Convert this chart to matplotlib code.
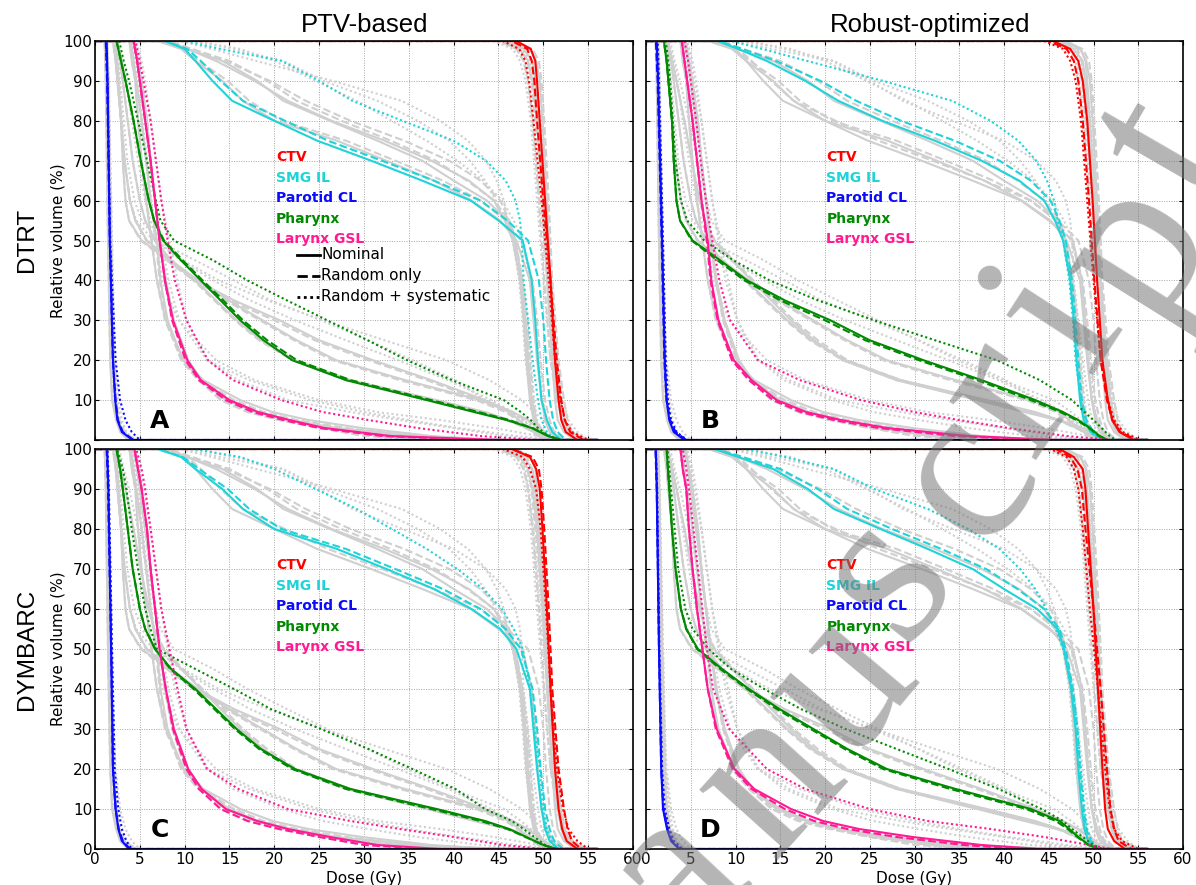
import matplotlib
matplotlib.use("Agg")
import matplotlib.pyplot as plt

# ---------------------------------------------------------------------------
# Cumulative DVHs: dose (Gy) at which each structure reaches the listed
# relative volume (%).  Each tuple holds (nominal, random only,
# random + systematic).
# ---------------------------------------------------------------------------
CTV_V = [100, 98, 95, 90, 80, 60, 40, 20, 10, 5, 2, 0]
SMG_V = [100, 98, 95, 90, 85, 80, 75, 70, 65, 60, 55, 50, 40, 30, 20, 10, 5, 2, 0]
PAR_V = [100, 90, 50, 20, 10, 5, 2, 0]
PHX_V = [100, 95, 90, 80, 70, 60, 55, 50, 45, 40, 35, 30, 25, 20, 15, 10, 7, 5, 3, 1, 0]
LAR_V = [100, 95, 90, 80, 70, 60, 50, 40, 30, 20, 15, 10, 7, 5, 3, 1, 0]

# DTRT, PTV-based
A_CTV = ([47.0, 48.6, 49.1, 49.3, 49.6, 50.2, 50.8, 51.3, 51.7, 52.0, 52.5, 53.8],
         [46.5, 48.2, 48.7, 49.0, 49.3, 50.0, 50.8, 51.5, 52.0, 52.4, 53.0, 54.5],
         [45.5, 47.3, 48.0, 48.4, 48.9, 49.8, 50.6, 51.3, 51.9, 52.4, 53.2, 55.0])
A_SMG = ([7.8, 10.0, 11.2, 13.1, 15.3, 20.0, 24.8, 30.8, 36.5, 41.9, 45.0, 47.7, 48.7, 49.1, 49.4, 49.8, 50.4, 51.0, 52.0],
         [7.8, 10.3, 11.8, 14.0, 16.5, 21.2, 26.0, 32.0, 37.8, 43.0, 46.0, 48.3, 49.5, 50.0, 50.3, 50.7, 51.1, 51.6, 52.5],
         [10.0, 14.0, 20.8, 25.0, 28.7, 34.3, 40.0, 43.6, 45.8, 46.9, 47.4, 47.6, 47.8, 48.3, 48.8, 49.4, 49.8, 50.4, 51.3])
A_PAR = ([1.3, 1.4, 1.65, 2.0, 2.25, 2.5, 3.0, 4.2],
         [1.2, 1.35, 1.65, 2.0, 2.3, 2.55, 3.1, 4.3],
         [1.2, 1.4, 1.7, 2.3, 2.8, 3.4, 4.1, 5.0])
A_PHX = ([2.4, 2.9, 3.4, 4.3, 5.1, 6.0, 6.6, 7.6, 9.6, 11.8, 14.0, 16.2, 18.8, 22.0, 28.0, 37.0, 42.3, 45.9, 48.7, 50.5, 52.0],
         [2.4, 2.9, 3.4, 4.3, 5.1, 6.0, 6.6, 7.7, 9.8, 12.0, 14.3, 16.5, 19.2, 22.5, 28.5, 37.5, 42.8, 46.2, 48.8, 50.6, 52.0],
         [2.7, 3.2, 3.8, 4.8, 5.8, 6.8, 7.3, 8.8, 13.2, 17.0, 21.4, 25.9, 30.4, 34.8, 39.8, 45.6, 47.5, 48.6, 49.4, 50.6, 51.8])
A_LAR = ([4.3, 4.7, 5.0, 5.6, 6.2, 6.7, 7.2, 7.8, 8.7, 10.3, 11.8, 15.0, 18.2, 21.7, 25.6, 33.0, 45.0],
         [4.3, 4.7, 5.0, 5.6, 6.2, 6.7, 7.2, 7.8, 8.6, 10.1, 11.6, 14.6, 17.6, 21.0, 25.0, 32.0, 43.0],
         [4.5, 5.0, 5.4, 6.2, 6.8, 7.4, 8.1, 8.9, 10.2, 12.6, 15.4, 20.8, 25.4, 30.5, 36.0, 43.0, 49.0])

# DTRT, robust-optimized
B_CTV = ([45.5, 47.4, 48.3, 48.8, 49.3, 49.9, 50.4, 51.0, 51.6, 52.1, 52.9, 54.5],
         [45.0, 47.0, 47.8, 48.3, 48.8, 49.5, 50.1, 50.8, 51.5, 52.1, 53.0, 54.8],
         [44.5, 46.6, 47.4, 48.0, 48.6, 49.3, 50.0, 50.8, 51.6, 52.3, 53.3, 55.2])
B_SMG = ([8.0, 10.3, 13.5, 17.8, 21.5, 26.4, 32.3, 37.5, 41.7, 44.5, 45.7, 46.6, 47.4, 47.8, 48.1, 48.5, 48.9, 49.7, 51.0],
         [8.2, 10.8, 14.5, 19.5, 23.5, 28.5, 34.5, 39.5, 43.0, 45.2, 46.2, 46.9, 47.6, 48.0, 48.3, 48.7, 49.2, 50.0, 51.2],
         [9.5, 13.0, 18.0, 26.5, 34.2, 38.5, 41.6, 43.6, 44.8, 45.6, 46.0, 46.6, 47.3, 47.7, 48.0, 48.6, 49.0, 49.7, 50.5])
B_PAR = ([1.2, 1.35, 1.8, 2.1, 2.3, 2.6, 3.1, 4.3],
         [1.1, 1.3, 1.75, 2.05, 2.3, 2.7, 3.3, 4.5],
         [1.3, 1.45, 1.9, 2.2, 2.45, 2.8, 3.4, 4.6])
B_PHX = ([2.0, 2.3, 2.5, 2.9, 3.1, 3.4, 3.8, 5.2, 8.3, 11.3, 15.5, 20.6, 25.0, 31.0, 37.5, 43.5, 46.6, 48.3, 49.6, 50.7, 51.6],
         [2.0, 2.3, 2.5, 2.9, 3.1, 3.4, 3.8, 5.1, 8.0, 11.0, 15.0, 20.0, 24.5, 30.5, 37.0, 43.0, 46.3, 48.1, 49.5, 50.6, 51.6],
         [2.2, 2.5, 2.7, 3.0, 3.3, 3.9, 4.6, 6.5, 9.8, 13.8, 19.2, 25.5, 32.3, 39.2, 44.0, 47.6, 49.0, 50.0, 50.9, 51.8, 52.5])
B_LAR = ([4.0, 4.3, 4.6, 5.2, 5.7, 6.2, 6.9, 7.3, 8.1, 9.8, 11.8, 14.6, 17.9, 21.8, 27.0, 36.0, 46.0],
         [4.0, 4.3, 4.6, 5.2, 5.7, 6.2, 6.8, 7.2, 8.0, 9.6, 11.5, 14.2, 17.3, 21.0, 26.0, 34.5, 44.0],
         [4.3, 4.7, 5.0, 5.6, 6.1, 6.7, 7.4, 8.2, 9.4, 12.5, 17.2, 24.0, 30.0, 35.0, 40.5, 47.0, 52.0])

# DYMBARC, PTV-based
C_CTV = ([46.5, 48.5, 49.2, 49.6, 49.9, 50.4, 50.8, 51.3, 51.7, 52.1, 52.6, 53.8],
         [46.5, 48.8, 49.5, 49.8, 50.1, 50.6, 51.0, 51.7, 52.3, 52.7, 53.2, 54.2],
         [45.5, 47.7, 48.5, 49.2, 49.7, 50.3, 50.8, 51.5, 52.2, 52.8, 53.8, 55.0])
C_SMG = ([7.0, 9.6, 11.2, 14.2, 16.5, 20.0, 27.0, 32.5, 37.8, 42.0, 45.2, 47.0, 48.5, 48.9, 49.3, 49.8, 50.2, 50.7, 51.7],
         [7.0, 9.8, 11.6, 14.8, 17.2, 20.8, 28.0, 33.5, 38.8, 43.0, 45.8, 47.5, 48.8, 49.3, 49.7, 50.2, 50.7, 51.2, 52.2],
         [11.0, 16.2, 20.0, 24.6, 29.2, 33.1, 37.0, 40.4, 43.3, 45.4, 46.7, 47.7, 48.5, 49.0, 49.6, 50.0, 50.4, 50.9, 51.5])
C_PAR = ([1.35, 1.5, 1.8, 2.0, 2.3, 2.6, 3.0, 3.8],
         [1.3, 1.45, 1.8, 2.0, 2.3, 2.65, 3.1, 3.9],
         [1.4, 1.55, 1.9, 2.2, 2.6, 3.0, 3.5, 4.1])
C_PHX = ([2.4, 2.8, 3.1, 3.65, 4.2, 5.0, 5.6, 6.7, 8.5, 11.2, 13.5, 15.8, 18.5, 22.3, 28.5, 38.1, 43.5, 46.2, 48.1, 50.0, 51.5],
         [2.4, 2.8, 3.1, 3.65, 4.2, 5.0, 5.6, 6.7, 8.4, 11.0, 13.3, 15.6, 18.3, 22.0, 28.0, 37.5, 43.0, 46.0, 48.0, 50.0, 51.5],
         [2.5, 3.1, 3.5, 4.1, 4.8, 5.6, 6.2, 6.9, 11.2, 15.5, 19.6, 25.2, 30.5, 35.4, 40.2, 43.5, 46.5, 47.8, 49.0, 50.2, 51.0])
C_LAR = ([4.4, 4.8, 5.2, 5.8, 6.2, 6.7, 7.2, 7.9, 8.8, 10.4, 11.9, 14.6, 18.1, 21.5, 26.2, 31.5, 38.5],
         [4.4, 4.8, 5.2, 5.8, 6.2, 6.7, 7.2, 7.9, 8.7, 10.2, 11.6, 14.0, 17.0, 20.5, 25.0, 30.0, 37.0],
         [4.6, 5.2, 5.6, 6.2, 6.8, 7.4, 8.3, 9.2, 10.2, 12.5, 16.0, 21.5, 28.5, 34.0, 40.0, 45.5, 50.0])

# DYMBARC, robust-optimized
D_CTV = ([46.2, 47.8, 48.8, 49.1, 49.4, 50.0, 50.5, 51.0, 51.3, 51.6, 52.3, 53.5],
         [45.8, 47.4, 48.2, 48.7, 49.1, 50.0, 50.8, 51.5, 51.9, 52.3, 52.8, 54.2],
         [45.2, 47.0, 47.8, 48.3, 48.8, 49.6, 50.5, 51.3, 51.8, 52.3, 53.2, 55.0])
D_SMG = ([7.7, 10.3, 14.2, 18.1, 21.0, 26.2, 31.5, 36.5, 40.0, 43.7, 46.0, 46.7, 47.5, 48.0, 48.3, 48.7, 49.0, 49.4, 50.2],
         [7.7, 10.8, 15.0, 19.2, 22.5, 27.5, 33.0, 38.0, 41.5, 44.5, 46.2, 46.9, 47.7, 48.2, 48.5, 48.9, 49.2, 49.7, 50.5],
         [11.0, 15.5, 21.0, 25.5, 31.5, 36.0, 39.5, 41.8, 43.5, 44.7, 45.8, 46.6, 47.7, 48.2, 48.6, 49.0, 49.3, 49.8, 50.5])
D_PAR = ([1.1, 1.2, 1.45, 1.7, 1.9, 2.35, 2.8, 3.7],
         [1.05, 1.2, 1.45, 1.7, 1.95, 2.4, 2.9, 3.8],
         [1.1, 1.25, 1.5, 1.8, 2.1, 2.6, 3.1, 4.1])
D_PHX = ([2.3, 2.45, 2.6, 2.9, 3.3, 3.9, 4.5, 5.8, 8.5, 11.5, 14.9, 18.7, 22.5, 26.9, 34.6, 43.0, 46.2, 47.3, 48.3, 49.5, 50.5],
         [2.3, 2.45, 2.6, 2.9, 3.3, 3.9, 4.5, 5.7, 8.3, 11.3, 14.6, 18.4, 22.2, 26.5, 34.0, 42.5, 45.8, 47.1, 48.2, 49.4, 50.5],
         [2.4, 2.6, 2.8, 3.2, 3.6, 4.4, 5.2, 7.0, 9.5, 13.2, 17.3, 22.3, 28.0, 33.8, 39.4, 44.2, 46.6, 47.6, 48.8, 50.0, 51.0])
D_LAR = ([3.85, 4.1, 4.5, 4.8, 5.2, 5.7, 6.3, 6.9, 7.9, 9.9, 12.1, 16.2, 19.8, 23.8, 29.8, 37.5, 44.0],
         [3.85, 4.1, 4.5, 4.8, 5.2, 5.7, 6.3, 6.9, 7.8, 9.7, 11.8, 15.5, 18.8, 22.5, 28.0, 35.5, 42.0],
         [4.1, 4.5, 4.8, 5.3, 5.8, 6.3, 6.8, 7.5, 9.3, 13.5, 17.8, 25.0, 31.5, 38.5, 44.5, 49.5, 52.0])

STRUCTURES = ["CTV", "SMG IL", "Parotid CL", "Pharynx", "Larynx GSL"]
STRUCT_VOLS = [CTV_V, SMG_V, PAR_V, PHX_V, LAR_V]
COLORS = ["#ff0000", "#1fd3d8", "#0a0aff", "#008a00", "#ff1a93"]
SCENARIOS = ["Nominal", "Random only", "Random + systematic"]

PANEL_KEYS = ["A", "B", "C", "D"]
PANEL_DATA = {
    "A": [A_CTV, A_SMG, A_PAR, A_PHX, A_LAR],
    "B": [B_CTV, B_SMG, B_PAR, B_PHX, B_LAR],
    "C": [C_CTV, C_SMG, C_PAR, C_PHX, C_LAR],
    "D": [D_CTV, D_SMG, D_PAR, D_PHX, D_LAR],
}
COL_TITLES = ["PTV-based", "Robust-optimized"]
ROW_TITLES = ["DTRT", "DYMBARC"]
X_TICKS = list(range(0, 61, 5))
Y_TICKS = list(range(0, 101, 10))
DOSE_END = 56.0

STYLES = ["-", "--", (0, (1, 1.3))]
GRAY = "#cfcfcf"

W, H = 1196, 885
fig = plt.figure(figsize=(W / 100, H / 100), dpi=100)

AX_BOX = {"A": (95, 41, 633, 440), "B": (646, 41, 1183, 440),
          "C": (95, 449, 633, 849), "D": (646, 449, 1183, 849)}


def rect(l, t, r, b):
    return [l / W, 1 - b / H, (r - l) / W, (b - t) / H]


def dvh(doses, vols):
    x = [0.0] + list(doses) + [DOSE_END]
    y = [100.0] + list(vols) + [0.0]
    return x, y


for key in PANEL_KEYS:
    ax = fig.add_axes(rect(*AX_BOX[key]))
    row = 0 if key in "AB" else 1
    col = 0 if key in "AC" else 1

    # the other three plans, in grey, underneath
    for other in PANEL_KEYS:
        if other == key:
            continue
        for vols, triple in zip(STRUCT_VOLS, PANEL_DATA[other]):
            for ls, doses in zip(STYLES, triple):
                x, y = dvh(doses, vols)
                ax.plot(x, y, color=GRAY, lw=1.5, ls=ls, zorder=2)

    # this plan in colour
    for vols, triple, c in zip(STRUCT_VOLS, PANEL_DATA[key], COLORS):
        for ls, doses in zip(STYLES, triple):
            x, y = dvh(doses, vols)
            ax.plot(x, y, color=c, lw=1.5, ls=ls, zorder=3)

    ax.set_xlim(0, 60)
    ax.set_ylim(0, 100)
    ax.set_xticks(X_TICKS)
    ax.set_yticks(Y_TICKS)
    ax.grid(True, color="#a5a5a5", ls=(0, (1, 1.5)), lw=0.7, zorder=1)
    ax.tick_params(direction="in", length=3, width=0.8, labelsize=11, pad=2,
                   top=True, right=True)
    for s in ax.spines.values():
        s.set_linewidth(1.2)
        s.set_zorder(5)

    if row == 0:
        ax.tick_params(labelbottom=False)
        ax.set_yticklabels(["" if v == 0 else str(v) for v in Y_TICKS])
    else:
        ax.set_xticklabels([str(v) for v in X_TICKS])
        ax.set_yticklabels([str(v) for v in Y_TICKS])
        ax.set_xlabel("Dose (Gy)", fontsize=11, labelpad=3)
    if col == 1:
        ax.tick_params(labelleft=False)
    else:
        ax.set_ylabel("Relative volume (%)", fontsize=11)
        ax.yaxis.set_label_coords(-0.055, 0.5)

    # structure colour key
    for i, (name, c) in enumerate(zip(STRUCTURES, COLORS)):
        ax.text(0.336, 0.709 - i * 0.0513, name, color=c, fontsize=10,
                fontweight="bold", transform=ax.transAxes, va="center",
                ha="left", zorder=6)

    # panel letter
    ax.text(0.12, 0.047, key, fontsize=18, fontweight="bold",
            transform=ax.transAxes, ha="center", va="center", zorder=6)

    # line-style key (first panel only)
    if key == "A":
        for i, (lab, ls) in enumerate(zip(SCENARIOS, STYLES)):
            yy = 0.464 - i * 0.0526
            ax.plot([0.375, 0.418], [yy, yy], transform=ax.transAxes,
                    color="black", lw=2.0, ls=ls, zorder=6, clip_on=False)
            ax.text(0.421, yy, lab, fontsize=11, transform=ax.transAxes,
                    va="center", ha="left", zorder=6)

# column and row titles
for x_px, t in zip([365, 930], COL_TITLES):
    fig.text(x_px / W, 1 - 25 / H, t, fontsize=18.5, ha="center",
             va="center", family="Liberation Sans")
for y_px, t in zip([240, 649], ROW_TITLES):
    fig.text(27 / W, 1 - y_px / H, t, fontsize=17.5, rotation=90,
             ha="center", va="center", family="Liberation Sans")

# watermark lettering along an arc
WM_TEXT = "anuscript"
WM_POS = [(718, 912, 47), (811, 817, 48), (885, 721, 50),
          (930, 610, 52), (1012, 511, 54), (1053, 429, 56), (1105, 348, 57),
          (1184, 280, 58), (1215, 176, 60)]
for ch, (xp, yp, rot) in zip(WM_TEXT, WM_POS):
    fig.text(xp / W, 1 - yp / H, ch, fontsize=165, family="Liberation Serif",
             color="#777777", alpha=0.55, rotation=rot, rotation_mode="anchor",
             ha="center", va="baseline", zorder=20)

fig.savefig("out.png", dpi=100)
